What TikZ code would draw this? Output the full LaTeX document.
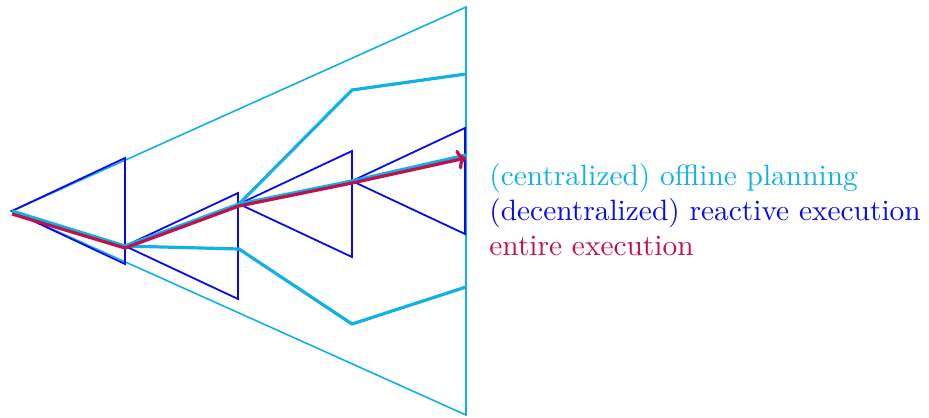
\documentclass[tikz,border=0pt]{standalone}
\usepackage{fontspec}
\newfontfamily\legendfont{lmroman10-regular.otf}
\usepackage{tikz}
\usetikzlibrary{arrows.meta, positioning, calc}
\definecolor{planCyan}{HTML}{10B0E8}
\definecolor{execBlue}{HTML}{0A0AF0}
\definecolor{runRed}{HTML}{C3104A}
\tikzset{
  planSpace/.style={draw=planCyan, line width=0.8pt, line join=miter},
  planPath/.style={draw=planCyan, line width=1.6pt, line join=round},
  window/.style={draw=execBlue, line width=0.9pt, line join=miter},
  runArrow/.style={-{To[length=4.5pt, width=10pt]}, draw=runRed, line width=1.6pt, line join=round},
  legend/.style={anchor=base west, inner sep=0pt, font=\legendfont\fontsize{14.7}{17.5}\selectfont},
}
\begin{document}
\begin{tikzpicture}[x=0.5pt, y=-0.5pt]
  \useasboundingbox (0,0) rectangle (929,417);
  % states along the execution
  \coordinate (s0) at (12,211);
  \coordinate (s1) at (125,246);
  \coordinate (s2) at (239,204);
  \coordinate (s3) at (352,181);
  \coordinate (s4) at (466,155);
  \coordinate (top) at (466,7);
  \coordinate (bot) at (466,415);
  % offline plan space
  \draw[planSpace] (s0) -- (top) -- (bot) -- cycle;
  % reactive windows
  \foreach \s in {s0,s1,s2,s3}
    \draw[window] (\s) -- ++(113,-53) -- ++(0,106) -- cycle;
  % planned branches
  \coordinate (up1) at (352,90);
  \coordinate (up2) at (466,74);
  \coordinate (lo1) at (239,249);
  \coordinate (lo2) at (352,324);
  \coordinate (lo3) at (466,287);
  \draw[planPath] (s2) -- (up1) -- (up2);
  \draw[planPath] (s1) -- (lo1) -- (lo2) -- (lo3);
  \draw[planPath] (s0) -- (s1) -- (s2) -- (s3) -- (s4);
  % entire execution
  \draw[runArrow] ([yshift=-1.5pt]s0) -- ([yshift=-1pt]s1) -- ([yshift=-1pt]s2)
    -- ([yshift=-1pt]s3) -- ([yshift=-1.5pt]s4);
  % legend
  \node[legend, text=planCyan] (lgPlan) at (489,185) {(centralized) offline planning};
  \node[legend, text=execBlue] (lgReact) at ([yshift=-17.5pt]lgPlan.base west) {(decentralized) reactive execution};
  \node[legend, text=runRed] (lgRun) at ([yshift=-17.5pt]lgReact.base west) {entire execution};
\end{tikzpicture}
\end{document}
